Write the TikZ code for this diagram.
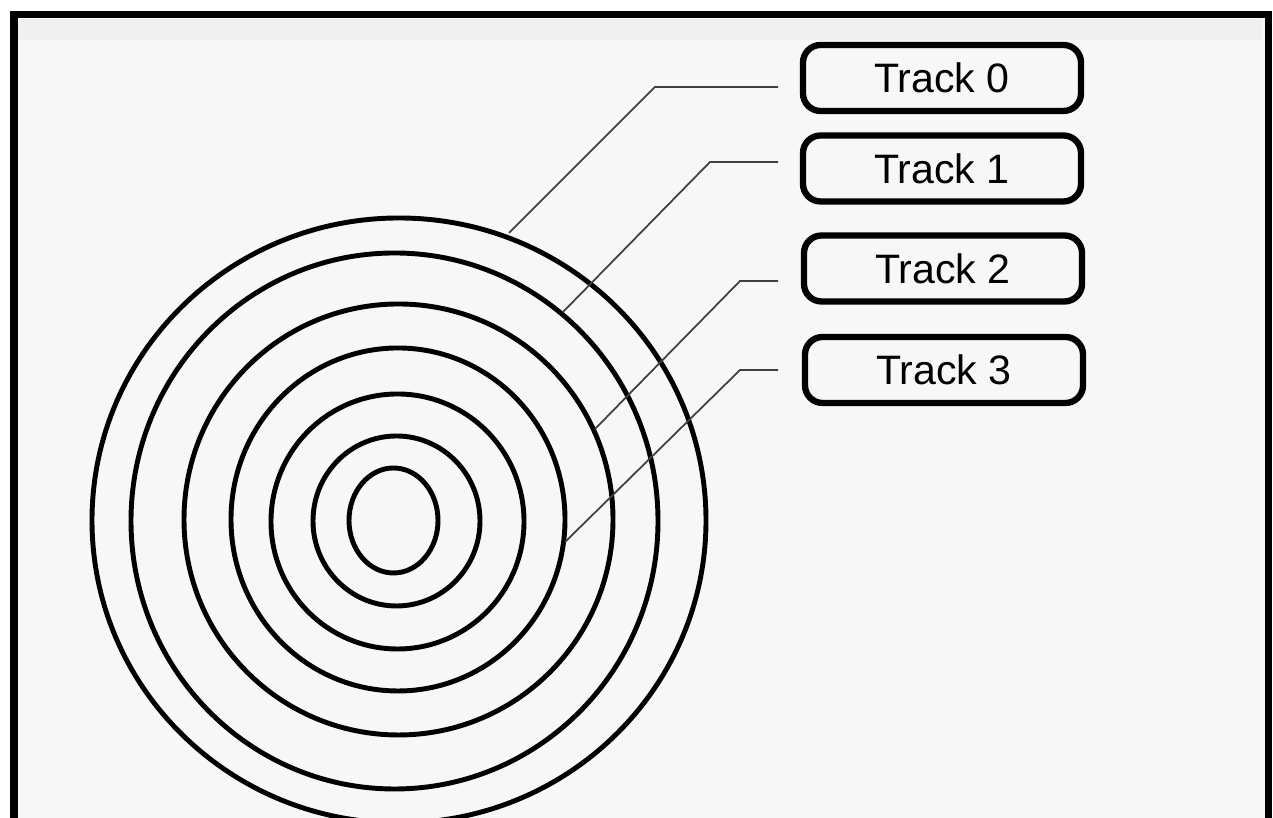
\documentclass[tikz,border=0pt]{standalone}
\usepackage{fontspec}
\setsansfont{Liberation Sans}
\usetikzlibrary{positioning}

\definecolor{paper}{HTML}{F7F7F7}
\definecolor{band}{HTML}{F0F0F0}

\begin{document}
\begin{tikzpicture}[
    track/.style={rectangle, rounded corners=5pt, draw=black, line width=1.8pt, minimum width=2.78cm, minimum height=0.66cm, inner sep=0pt, font=\sffamily\fontsize{11.7pt}{13pt}\selectfont, text=black},
    ring/.style={draw=black, line width=1.4pt},
    leader/.style={draw=black!75, line width=0.5pt},
    frame/.style={draw=black, line width=2pt}
]

% Page size and paper
\clip (0,0) rectangle (12.73,8.18);
\fill[white] (0,0) rectangle (12.73,8.18);
\fill[paper] (0.14,-0.2) rectangle (12.68,8.03);
\fill[band] (0.18,7.78) rectangle (12.62,7.99);

% Frame - open at the bottom
\draw[frame] (0.14,-0.2) -- (0.14,8.03) -- (12.68,8.03) -- (12.68,-0.2);

% Disk tracks - concentric rings, outermost first
\draw[ring] (3.99,2.975) ellipse [x radius=3.07, y radius=3.025];
\draw[ring] (3.945,2.97) ellipse [x radius=2.635, y radius=2.68];
\draw[ring] (3.985,2.985) ellipse [x radius=2.145, y radius=2.155];
\draw[ring] (3.98,2.985) ellipse [x radius=1.67, y radius=1.715];
\draw[ring] (3.975,2.965) ellipse [x radius=1.265, y radius=1.275];
\draw[ring] (3.965,2.97) ellipse [x radius=0.835, y radius=0.85];
\draw[ring] (3.935,2.975) ellipse [x radius=0.445, y radius=0.525];

% Track labels
\node[track] (t0) at (9.42,7.40) {Track 0};
\node[track] (t1) at (9.42,6.495) {Track 1};
\node[track] (t2) at (9.43,5.495) {Track 2};
\node[track] (t3) at (9.44,4.48) {Track 3};

% Leader ends - near the labels and on the rings
\coordinate (l0) at (7.78,7.31);
\coordinate (k0) at (6.55,7.31);
\coordinate (r0) at (5.09,5.85);
\coordinate (l1) at (7.78,6.56);
\coordinate (k1) at (7.10,6.56);
\coordinate (r1) at (5.63,5.06);
\coordinate (l2) at (7.78,5.37);
\coordinate (k2) at (7.40,5.37);
\coordinate (r2) at (5.95,3.89);
\coordinate (l3) at (7.78,4.48);
\coordinate (k3) at (7.40,4.48);
\coordinate (r3) at (5.65,2.76);

% Leaders from labels to rings
\draw[leader] (l0) -- (k0) -- (r0);
\draw[leader] (l1) -- (k1) -- (r1);
\draw[leader] (l2) -- (k2) -- (r2);
\draw[leader] (l3) -- (k3) -- (r3);

\end{tikzpicture}
\end{document}
